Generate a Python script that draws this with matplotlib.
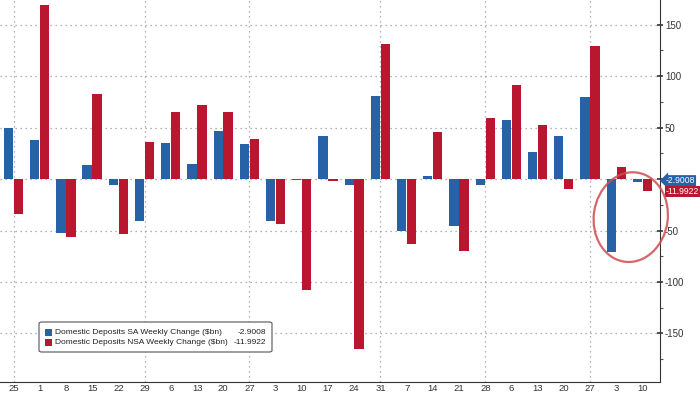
import matplotlib
matplotlib.use("Agg")
import matplotlib.pyplot as plt
from matplotlib.patches import Ellipse, Rectangle, FancyBboxPatch
from matplotlib.transforms import IdentityTransform
import numpy as np

plt.rcParams['font.family'] = ['Liberation Sans', 'DejaVu Sans']

dates = ["25", "1", "8", "15", "22", "29", "6", "13", "20", "27", "3", "10", "17",
         "24", "31", "7", "14", "21", "28", "6", "13", "20", "27", "3", "10"]
sa = [50, 37.5, -52, 13.3, -6, -41, 35, 14.6, 46.7, 33.8, -41, -1, 42,
      -6, 80.5, -50.3, 2.6, -46, -5.5, 57.5, 26.7, 42.3, 80, -70.4, -2.9008]
nsa = [-34, 169, -56, 82.2, -53.8, 36, 65.6, 72.4, 65, 39, -44, -107.4, -2,
       -165, 131, -63.3, 45.5, -69.7, 59.8, 91, 53, -9.4, 129, 11.7, -11.9922]
sa_label = "Domestic Deposits SA Weekly Change ($bn)"
nsa_label = "Domestic Deposits NSA Weekly Change ($bn)"
month_ends = [0, 5, 9, 14, 18, 22]

BLUE = "#2862a6"
RED = "#b8172f"

fig = plt.figure(figsize=(7.0, 3.94), dpi=100)
ax = fig.add_axes([0.0, 0.031, 0.943, 0.969])

x = np.arange(len(dates))
w = 0.355
ax.bar(x - 0.195, sa, width=w, color=BLUE, zorder=3)
ax.bar(x + 0.185, nsa, width=w, color=RED, zorder=3)

ax.set_xlim(-0.52, 24.67)
ax.set_ylim(-197, 174)

ax.set_xticks(x)
ax.set_xticklabels(dates, fontsize=6.8, color="#333333")
ax.tick_params(axis='x', length=0, pad=1.5)

ax.yaxis.tick_right()
ax.set_yticks([-150, -100, -50, 0, 50, 100, 150])
ax.set_yticklabels(["-150", "-100", "-50", "", "50", "100", "150"])
ax.set_yticks([-175, -125, -75, -25, 25, 75, 125], minor=True)
ax.tick_params(axis='y', which='major', direction='inout', length=5, width=1.2,
               labelsize=7, labelcolor="#333333", color="#333333", pad=1)
ax.tick_params(axis='y', which='minor', direction='out', length=2, width=0.8,
               color="#555555")

for s in ['top', 'left']:
    ax.spines[s].set_visible(False)
ax.spines['right'].set_color("#333333")
ax.spines['bottom'].set_color("#333333")

grid_kw = dict(color="#9a9a9a", linestyle=(0, (1, 3)), linewidth=0.9, zorder=1)
for yv in [-150, -100, -50, 0, 50, 100, 150]:
    ax.axhline(yv, **grid_kw)
for xi in month_ends:
    ax.axvline(xi, **grid_kw)

# value tags on the right axis
ax.annotate(f"{sa[-1]:.4f}", xy=(1.0, sa[-1]), xycoords=('axes fraction', 'data'),
            xytext=(4, 1), textcoords='offset points', ha='left', va='center',
            color='white', fontsize=6.2, annotation_clip=False, zorder=6,
            bbox=dict(boxstyle='larrow,pad=0.12', fc=BLUE, ec='none'))
ax.annotate(f"{nsa[-1]:.4f}", xy=(1.0, nsa[-1]), xycoords=('axes fraction', 'data'),
            xytext=(4, 0), textcoords='offset points', ha='left', va='center',
            color='white', fontsize=6.2, annotation_clip=False, zorder=6,
            bbox=dict(boxstyle='square,pad=0.12', fc=RED, ec='none'))

# red ellipse highlight
fig.canvas.draw()
cx, cy = ax.transData.transform((23.55, -37))
ell = Ellipse((cx, cy), 74, 90, angle=-8, transform=IdentityTransform(),
              fill=False, ec="#d24a4f", lw=1.6, alpha=0.85, clip_on=False, zorder=7)
fig.add_artist(ell)

# legend (manual)
fig_w, fig_h = 700, 394
def fx(px):
    return px / fig_w
def fy(py):
    return 1 - py / fig_h

box = FancyBboxPatch((fx(39), fy(352)), fx(272) - fx(39), fy(322) - fy(352),
                     boxstyle='round,pad=0,rounding_size=0.004',
                     transform=fig.transFigure, fc='white', ec='#555555', lw=0.8, zorder=8)
fig.add_artist(box)
for i, (lab, val, col) in enumerate([(sa_label, sa[-1], BLUE), (nsa_label, nsa[-1], RED)]):
    yc = 332 + i * 10.5
    fig.add_artist(Rectangle((fx(45), fy(yc + 3.5)), fx(7), 7 / fig_h,
                             transform=fig.transFigure, fc=col, ec='none', zorder=9))
    fig.text(fx(55), fy(yc), lab, fontsize=6.0, color='#222222', va='center', ha='left', zorder=9)
    fig.text(fx(266), fy(yc), f"{val:.4f}", fontsize=6.0, color='#222222', va='center',
             ha='right', zorder=9)

fig.savefig("out.png", dpi=100)
